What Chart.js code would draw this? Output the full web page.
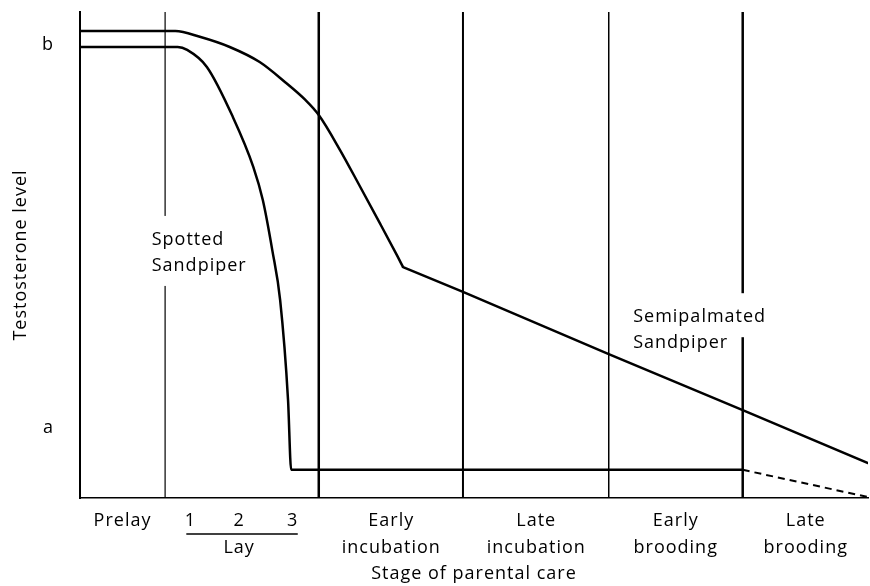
<!DOCTYPE html>
<html>
<head>
<meta charset="utf-8">
<script src="https://cdn.jsdelivr.net/npm/chart.js@4.4.1/dist/chart.umd.min.js"></script>
<style>
  html, body { margin: 0; padding: 0; background: #fff; }
  #wrap { width: 870px; height: 586px; }
</style>
</head>
<body>
<div id="wrap"><canvas id="chart"></canvas></div>
<script>
// Time runs 0-100 across the stages, testosterone 0-100 (a and b marked)
const stageEdges = [10.8, 30.3, 48.6, 67.1, 84.1];
const stageMids = [5.4, 20.2, 39.5, 57.9, 75.6, 92.1];
const stageLabels = ['Prelay', ['', 'Lay'], ['Early', 'incubation'], ['Late', 'incubation'], ['Early', 'brooding'], ['Late', 'brooding']];
const eggLabels = ['1', '2', '3'];
const eggX = [14.0, 20.2, 27.0];

const yTickValues = [14.4, 93.2];
const yTickLabels = ['a', 'b'];

// Semipalmated Sandpiper: curved fall, then straight decline after the kink
const semiX = [0, 12.1, 15.2, 19.0, 22.8, 26.0, 28.6, 30.3, 33.0, 35.5, 38.1, 40.3, 41.0];
const semiY = [96.1, 96.1, 94.9, 92.8, 89.7, 85.6, 81.9, 78.8, 71.6, 64.2, 56.4, 49.7, 47.5];
const semiLateX = [41.0, 48.6, 67.1, 84.1, 100];
const semiLateY = [47.5, 42.4, 29.6, 18.1, 7.2];

// Spotted Sandpiper
const spotX = [0, 12.4, 13.6, 16.1, 19.4, 22.0, 23.2, 24.4, 25.4, 26.4, 26.8, 84.1];
const spotY = [92.8, 92.8, 92.2, 88.7, 78.4, 68.1, 61.3, 51.0, 40.7, 20.2, 5.8, 5.8];

// Spotted Sandpiper, late brooding (dashed)
const spotLateX = [84.1, 100];
const spotLateY = [5.8, 0.2];

const speciesLabels = [['Spotted', 'Sandpiper'], ['Semipalmated', 'Sandpiper']];
const speciesX = [9.1, 70.2];
const speciesY = [53.1, 37.2];

const FONT = "'Open Sans', sans-serif";
const pts = (xs, ys) => xs.map((x, i) => ({ x: x, y: ys[i] }));

const stagePlugin = {
  id: 'stagePlugin',
  beforeLayout(chart) { chart.ctx.letterSpacing = '1px'; },
  beforeDraw(chart) { chart.ctx.letterSpacing = '1px'; },
  beforeDatasetsDraw(chart) {
    const { ctx, chartArea, scales } = chart;
    const widths = [1.2, 2.5, 2, 1.5, 2.5];
    ctx.save();
    ctx.strokeStyle = '#000';
    stageEdges.forEach((v, i) => {
      const px = scales.x.getPixelForValue(v);
      ctx.lineWidth = widths[i];
      ctx.beginPath();
      ctx.moveTo(px, scales.y.getPixelForValue(100));
      ctx.lineTo(px, chartArea.bottom);
      ctx.stroke();
    });

    // white behind the species names, so stage lines break there (curves stay on top)
    ctx.font = '18px ' + FONT;
    ctx.fillStyle = '#fff';
    speciesLabels.forEach((lines, i) => {
      const x0 = scales.x.getPixelForValue(speciesX[i]);
      const y0 = scales.y.getPixelForValue(speciesY[i]);
      lines.forEach((t, j) => {
        ctx.fillRect(x0 - 3, y0 + j * 26 - 24, ctx.measureText(t).width + 6, 44);
      });
    });
    ctx.restore();
  },
  afterDatasetsDraw(chart) {
    const { ctx, chartArea, scales } = chart;
    ctx.save();
    ctx.font = '18px ' + FONT;
    ctx.fillStyle = '#000';
    ctx.textBaseline = 'middle';

    ctx.textAlign = 'left';
    speciesLabels.forEach((lines, i) => {
      const x0 = scales.x.getPixelForValue(speciesX[i]);
      const y0 = scales.y.getPixelForValue(speciesY[i]);
      lines.forEach((t, j) => ctx.fillText(t, x0, y0 + j * 26));
    });

    // egg numbers over the Lay stage
    ctx.textAlign = 'center';
    const ty = chartArea.bottom + 23;
    eggLabels.forEach((t, i) => ctx.fillText(t, scales.x.getPixelForValue(eggX[i]), ty));
    const x1 = scales.x.getPixelForValue(eggX[0]) - 4;
    const x2 = scales.x.getPixelForValue(eggX[eggX.length - 1]) + 5;
    ctx.lineWidth = 1.5;
    ctx.beginPath();
    ctx.moveTo(x1, ty + 13);
    ctx.lineTo(x2, ty + 13);
    ctx.stroke();
    ctx.restore();
  }
};

new Chart(document.getElementById('chart'), {
  type: 'line',
  data: {
    datasets: [
      {
        label: 'Semipalmated Sandpiper',
        data: pts(semiX, semiY),
        borderColor: '#000',
        borderWidth: 2.5,
        pointRadius: 0,
        cubicInterpolationMode: 'monotone'
      },
      {
        label: 'Semipalmated Sandpiper (after kink)',
        data: pts(semiLateX, semiLateY),
        borderColor: '#000',
        borderWidth: 2.5,
        borderCapStyle: 'round',
        pointRadius: 0
      },
      {
        label: 'Spotted Sandpiper',
        data: pts(spotX, spotY),
        borderColor: '#000',
        borderWidth: 2.5,
        pointRadius: 0,
        cubicInterpolationMode: 'monotone'
      },
      {
        label: 'Spotted Sandpiper (late brooding)',
        data: pts(spotLateX, spotLateY),
        borderColor: '#000',
        borderWidth: 2,
        borderDash: [7, 5],
        pointRadius: 0
      }
    ]
  },
  options: {
    responsive: true,
    maintainAspectRatio: false,
    animation: false,
    layout: { padding: { top: 12, right: 2, left: 0, bottom: 0 } },
    plugins: {
      legend: { display: false },
      tooltip: { enabled: false }
    },
    scales: {
      x: {
        type: 'linear',
        min: 0,
        max: 100,
        grid: { display: false, drawTicks: false },
        border: { display: true, color: '#000', width: 1.5 },
        afterFit(scale) {
          scale.height = 88;
          scale.paddingLeft = 0;
          scale.paddingRight = 0;
        },
        afterBuildTicks(scale) { scale.ticks = stageMids.map(v => ({ value: v })); },
        ticks: {
          autoSkip: false,
          maxRotation: 0,
          padding: 9.5,
          color: '#000',
          font: { family: FONT, size: 18, lineHeight: 1.5 },
          callback: (v, i) => stageLabels[i]
        },
        title: {
          display: true,
          text: 'Stage of parental care',
          color: '#000',
          font: { family: FONT, size: 18 },
          padding: { top: 0, bottom: 1 }
        }
      },
      y: {
        min: 0,
        max: 100,
        grid: { display: false, drawTicks: false },
        border: { display: true, color: '#000', width: 2 },
        afterFit(scale) {
          scale.width = 80;
          scale.paddingTop = 0;
          scale.paddingBottom = 0;
        },
        afterBuildTicks(scale) { scale.ticks = yTickValues.map(v => ({ value: v })); },
        ticks: {
          padding: 26,
          color: '#000',
          font: { family: FONT, size: 18 },
          callback: (v, i) => yTickLabels[i]
        },
        title: {
          display: true,
          text: 'Testosterone level',
          color: '#000',
          font: { family: FONT, size: 18 },
          padding: { top: 10, bottom: 0 }
        }
      }
    }
  },
  plugins: [stagePlugin]
});
</script>
</body>
</html>
